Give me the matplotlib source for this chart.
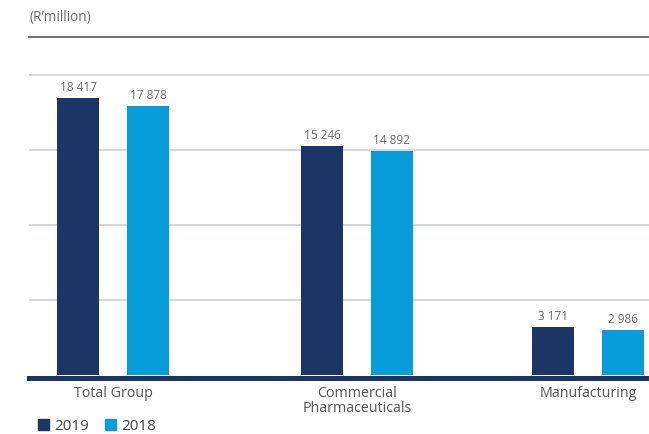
import numpy as np
import matplotlib.pyplot as plt
from matplotlib.patches import Patch

# -- Data
categories = ["Total Group", "Commercial\nPharmaceuticals", "Manufacturing"]
values_2019 = [18417, 15246, 3171]
values_2018 = [17878, 14892, 2986]
labels_2019 = ["18 417", "15 246", "3 171"]
labels_2018 = ["17 878", "14 892", "2 986"]

navy = "#1c3567"
cyan = "#079cda"
grey_text = "#6b6b6b"

plt.rcParams['font.family'] = ['Open Sans', 'DejaVu Sans']

W, H = 649, 434
fig = plt.figure(figsize=(W / 100, H / 100), dpi=100)
# axes placed in pixel terms: left 29, right 649, top 37, bottom 377.5
ax = fig.add_axes([29 / W, (H - 377.5) / H, (649 - 29) / W, (377.5 - 37) / H])

# group centres (the middle group sits a little right of centre in the original)
x = np.array([0, 1.027, 2])
width = 0.177
offset = 0.147

b1 = ax.bar(x - offset, values_2019, width, color=navy, zorder=2)
b2 = ax.bar(x + offset, values_2018, width, color=cyan, zorder=2)

for rect, lab in zip(b1, labels_2019):
    ax.annotate(lab, (rect.get_x() + rect.get_width() / 2, rect.get_height()),
                xytext=(0, 3), textcoords="offset points", ha="center", va="bottom",
                fontsize=8.5, color=grey_text)
for rect, lab in zip(b2, labels_2018):
    ax.annotate(lab, (rect.get_x() + rect.get_width() / 2, rect.get_height()),
                xytext=(0, 3), textcoords="offset points", ha="center", va="bottom",
                fontsize=8.5, color=grey_text)

ax.set_xlim(-0.354, 2.257)
ax.set_ylim(-167, 22500)

# grid lines
ax.set_yticks([5000, 10000, 15000, 20000])
ax.yaxis.grid(True, color="#c9cdd2", linewidth=1.1, zorder=0)
ax.tick_params(axis="y", left=False, labelleft=False)
ax.set_axisbelow(True)

ax.set_xticks(x)
ax.set_xticklabels(categories, fontsize=10.3, color="#555555", linespacing=1.0)
ax.tick_params(axis="x", length=0, pad=6)

for s in ["left", "right"]:
    ax.spines[s].set_visible(False)
ax.spines["bottom"].set_color(navy)
ax.spines["bottom"].set_linewidth(3.6)
ax.spines["bottom"].set_zorder(3)
ax.spines["top"].set_color("#555555")
ax.spines["top"].set_linewidth(1.2)

fig.text(30 / W, 1 - 17 / H, "(R\u2019million)", fontsize=9.8, color="#6b6b6b",
         ha="left", va="center")

handles = [Patch(color=navy, label="2019"), Patch(color=cyan, label="2018")]
fig.legend(handles=handles, loc="center left", bbox_to_anchor=(24 / W, 1 - 426 / H),
           ncol=2, frameon=False, fontsize=11, handlelength=0.75, handleheight=0.75,
           handletextpad=0.35, columnspacing=1.0, labelcolor="#444444")

fig.savefig("out.png", dpi=100)
